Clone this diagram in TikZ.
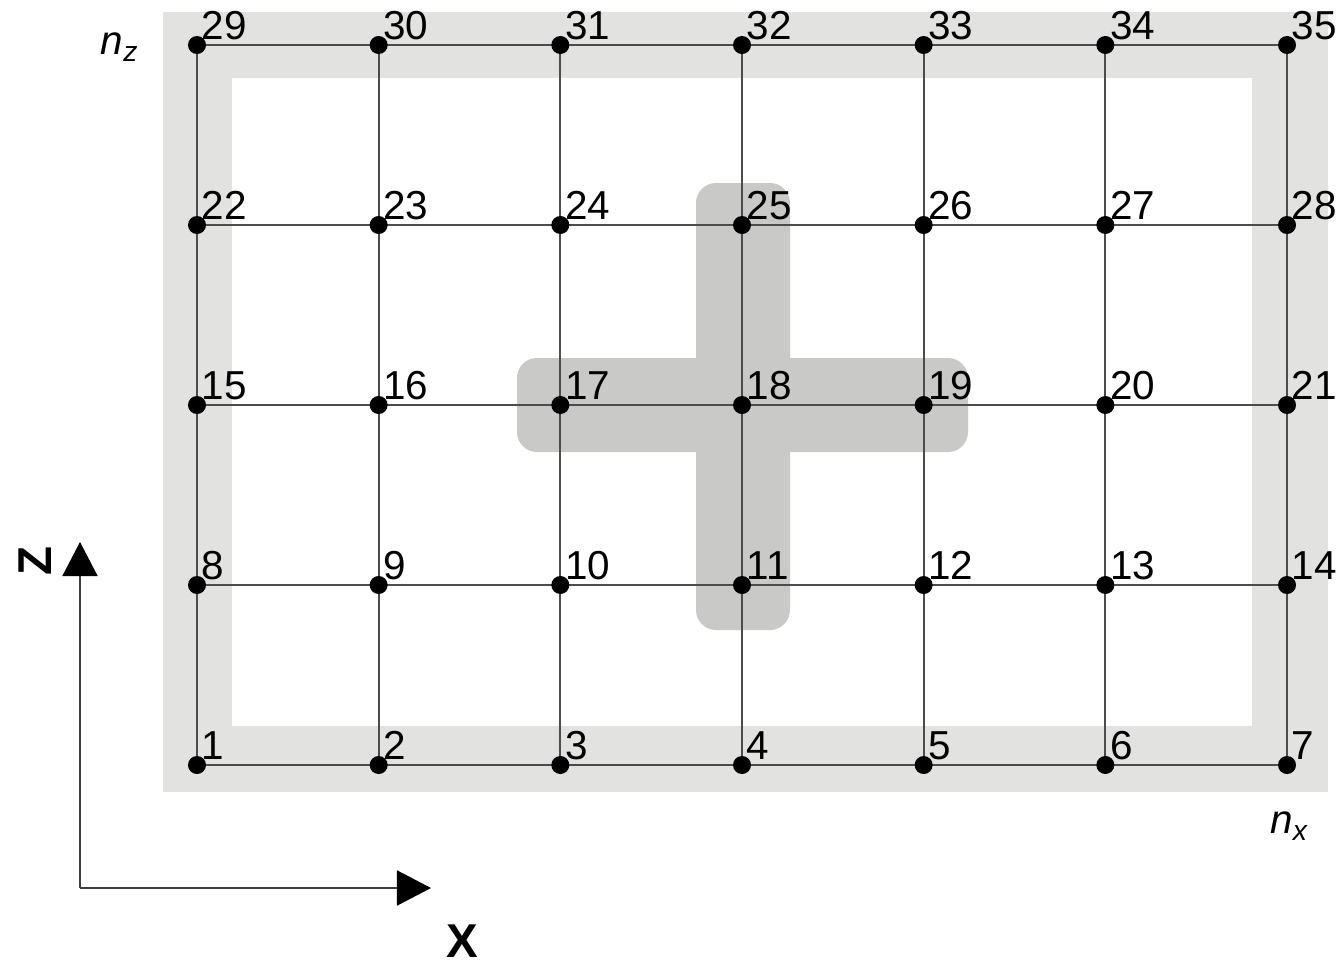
\documentclass[tikz,border=0pt]{standalone}
\usepackage{fontspec}
\setmainfont{Liberation Sans}
\usetikzlibrary{arrows.meta}
\definecolor{frameGrey}{RGB}{226,226,224}
\definecolor{crossGrey}{RGB}{201,201,199}

\begin{document}
\begin{tikzpicture}[x=0.01cm, y=-0.01cm,
  gridpt/.style={circle, fill=black, inner sep=0pt, minimum size=0.18cm},
  numlabel/.style={anchor=base west, inner sep=0pt, font=\fontsize{11.5}{13}\selectfont},
  gridline/.style={black!70, line width=0.5pt},
  axisline/.style={black!75, line width=0.5pt, -{Triangle[length=0.34cm,width=0.35cm,black]}},
  axislabel/.style={font=\fontsize{13.5}{15}\selectfont\bfseries}]
\useasboundingbox (0,0) rectangle (1336,963);
%% grey frame and cross
\fill[frameGrey] (163,12) rectangle (1328,792);
\fill[white] (232,78) rectangle (1252,726);
\fill[crossGrey, rounded corners=0.2cm] (696,183) rectangle (790,630);
\fill[crossGrey, rounded corners=0.2cm] (517,358) rectangle (968,452);
%% grid positions
\foreach \r in {0,...,4}
  \foreach \c in {0,...,6}{
    \pgfmathtruncatemacro{\k}{7*\r+\c+1}
    \coordinate (c\k) at ({197+181.67*\c},{765-180*\r});
  }
%% grid lines
\foreach \r in {0,...,4}{
  \pgfmathtruncatemacro{\a}{7*\r+1}
  \pgfmathtruncatemacro{\b}{7*\r+7}
  \draw[gridline] (c\a) -- (c\b);
}
\foreach \c in {1,...,7}{
  \pgfmathtruncatemacro{\b}{\c+28}
  \draw[gridline] (c\c) -- (c\b);
}
%% points and numbers
\foreach \k in {1,...,35}{
  \node[gridpt] (p\k) at (c\k) {};
  \node[numlabel] (l\k) at ([shift={(4,-6)}]c\k) {\k};
}
%% corner labels
\node (nz) at (120,47) {\fontsize{11.5}{13}\selectfont\textit{n}\textsubscript{\textit{z}}};
\node (nx) at (1290,826) {\fontsize{11.5}{13}\selectfont\textit{n}\textsubscript{\textit{x}}};
%% axes
\coordinate (orig) at (80,888);
\coordinate (zend) at (80,542);
\coordinate (xend) at (431,888);
\draw[axisline] (orig) -- (zend);
\draw[axisline] (orig) -- (xend);
\node[axislabel, rotate=90] (zlab) at (35,561) {Z};
\node[axislabel] (xlab) at (462,941) {X};
\end{tikzpicture}
\end{document}
